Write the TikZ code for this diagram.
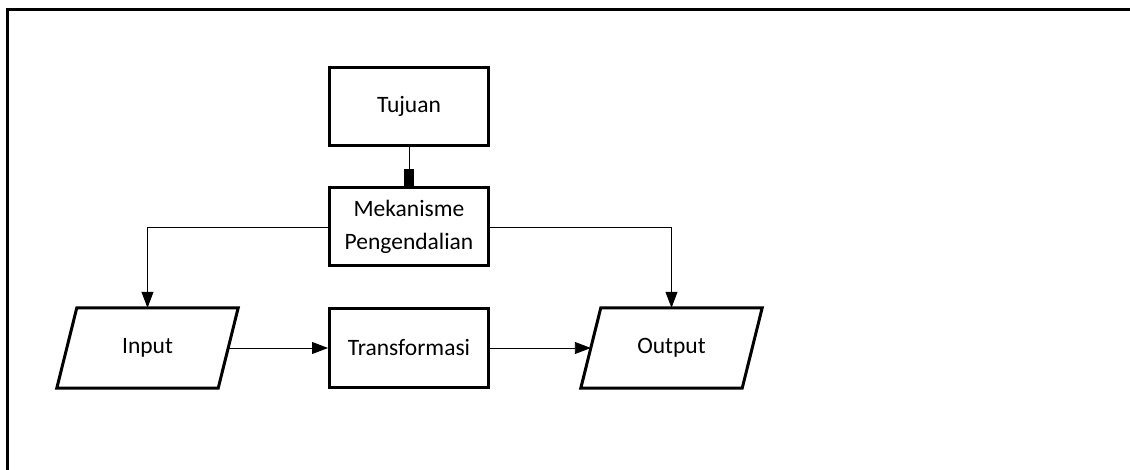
\documentclass[tikz,border=0pt]{standalone}
\usepackage{fontspec}
\setmainfont{Carlito}
\usetikzlibrary{arrows.meta,calc}
\begin{document}
\begin{tikzpicture}[x=1pt,y=-1pt,
  every node/.style={font=\fontsize{23.5}{33}\selectfont, align=center},
  box/.style={draw, line width=3pt, minimum width=159pt, minimum height=78pt, inner sep=0pt},
  slot/.style={draw=none, minimum width=161pt, minimum height=80pt, inner sep=0pt},
  para/.style={line width=3pt, line join=miter},
  link/.style={line width=0.9pt, -{Triangle[length=16pt,width=12pt]}},
  tie/.style={line width=0.9pt, -{Square[length=17pt,width=10pt]}}]
  \useasboundingbox (0,0) rectangle (1130,470);
  % open frame: top and left edges
  \draw[line width=3pt] (7,470) -- (7,10) -- (1130,10);
  % boxes
  \node[box] (goal) at (409,106.5) {Tujuan};
  \node[box] (ctrl) at (409,227) {Mekanisme\\Pengendalian};
  \node[box] (trans) at (409,348) {Transformasi};
  % parallelogram slots
  \node[slot] (in) at (147.5,348) {Input};
  \node[slot] (out) at (671.5,348) {Output};
  \draw[para] ($(in.north west)+(10,0)$) -- ($(in.north east)+(10,0)$)
    -- ($(in.south east)+(-10,0)$) -- ($(in.south west)+(-10,0)$) -- cycle;
  \draw[para] ($(out.north west)+(10,0)$) -- ($(out.north east)+(10,0)$)
    -- ($(out.south east)+(-10,0)$) -- ($(out.south west)+(-10,0)$) -- cycle;
  % connectors
  \draw[tie] (goal.south) -- (ctrl.north);
  \draw[link] (ctrl.west) -| (in.north);
  \draw[link] (ctrl.east) -| (out.north);
  \draw[link] (in.east) -- (trans.west);
  \draw[link] (trans.east) -- (out.west);
\end{tikzpicture}
\end{document}
